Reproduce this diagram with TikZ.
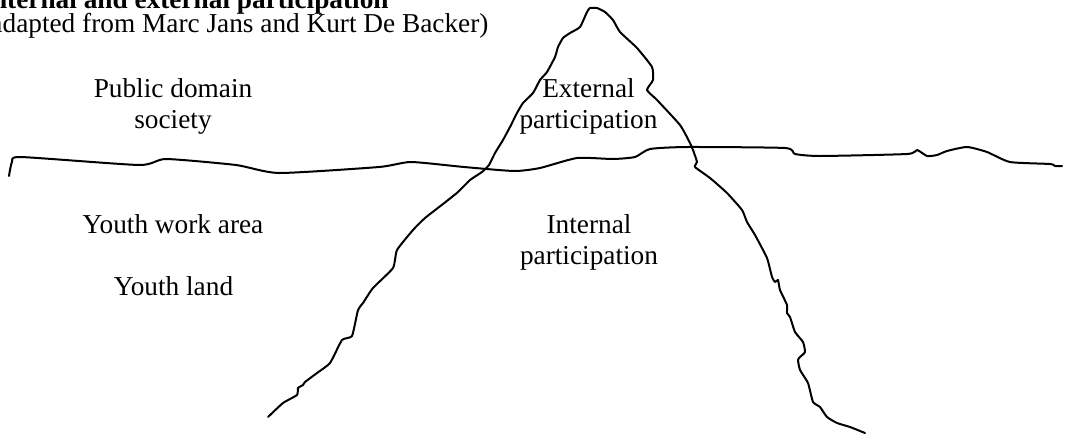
\documentclass[tikz,border=0pt]{standalone}
\usepackage{fontspec}
\setmainfont{Liberation Serif}
\usepackage{tikz}
\usetikzlibrary{positioning}

\begin{document}
\begin{tikzpicture}[x=0.5pt, y=-0.5pt,
    rough/.style={line width=1pt, line join=round, line cap=round},
    lbl/.style={font=\fontsize{13.65}{15.5}\selectfont, inner sep=0pt, align=center, anchor=base}]
    \useasboundingbox (0,0) rectangle (1065,434);
    \clip (0,0) rectangle (1065,434);
    % title, cut at the page edge
    \node[lbl, anchor=base west, font=\fontsize{13.65}{15.5}\selectfont\bfseries] (title) at (-19,8) {Internal and external participation};
    \node[lbl, anchor=base west] (source) at (-19,32) {(adapted from Marc Jans and Kurt De Backer)};
    % water line
    \draw[rough] plot[smooth, tension=0.35] coordinates {
      (9,176) (12,162) (21,157) (139,165) (166,159) (236,165) (279,173)
      (379,167) (411,162) (464,167) (514,171) (540,168) (577,158) (613,159)
      (635,157) (650,149) (687,147) (785,148) (795,154) (820,156) (907,154)
      (917,150) (927,156) (937,155) (947,151) (967,147) (987,152) (1010,162)
      (1050,164) (1055,166) (1062,166)};
    % iceberg
    \draw[rough] plot[smooth, tension=0.3] coordinates {
      (268,417) (283,403) (297,395) (298,388) (303,385) (305,382) (317,373)
      (330,363) (342,340) (352,336) (358,310) (363,303) (373,288) (393,268)
      (397,250) (413,230) (425,218) (443,204) (458,192) (470,180) (482,172)
      (489,165) (495,153) (503,140) (510,127) (517,113) (523,103)
      (533,93) (540,80) (547,72) (555,57) (558,47) (563,38) (570,33) (580,27)
      (587,12) (590,8) (597,8) (605,12) (613,20) (620,32) (637,48) (652,67)
      (653,80) (647,90) (657,100) (680,125) (690,143) (693,150) (697,162)
      (695,167) (710,178) (727,193) (742,210) (747,222) (755,235) (767,258)
      (772,277) (775,282) (778,280) (780,290) (787,305) (787,313) (790,317)
      (795,332) (803,342) (805,352) (800,357) (798,360) (800,370) (808,383)
      (813,402) (820,407) (827,417) (837,423) (850,427) (865,433)};
    % labels (base = baseline of the last line)
    \node[lbl] (pubdom) at (173,128) {Public domain\\society};
    \node[lbl] (youthwork) at (173,233) {Youth work area};
    \node[lbl] (youthland) at (173.5,295) {Youth land};
    \node[lbl] (extpart) at (588.5,128) {External\\participation};
    \node[lbl] (intpart) at (589,264) {Internal\\participation};
\end{tikzpicture}
\end{document}
